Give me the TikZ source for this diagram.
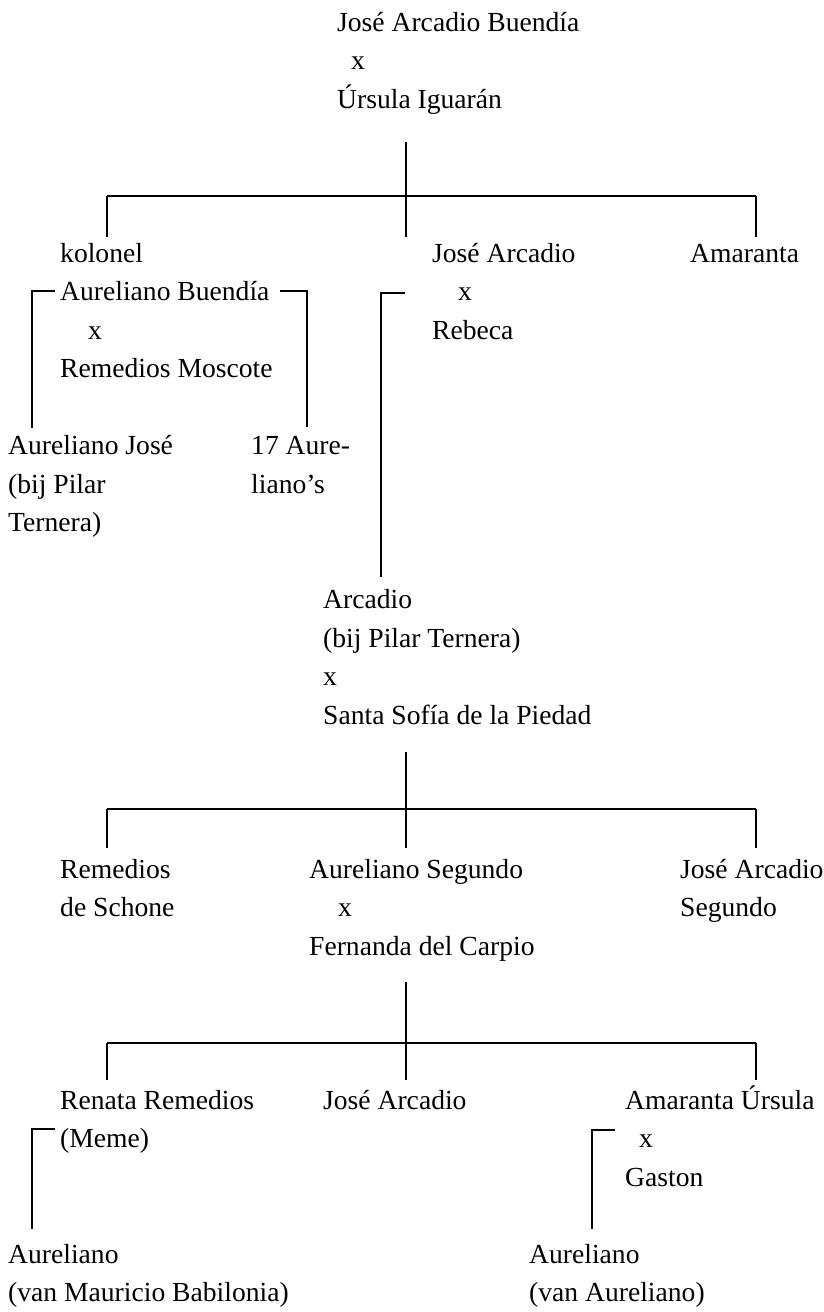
\documentclass[tikz,border=0pt]{standalone}
\usepackage{fontspec}
\setmainfont{Liberation Serif}
\begin{document}
\begin{tikzpicture}[x=1pt, y=-1pt,
  person/.style={anchor=base west, align=left, inner sep=0pt, font=\fontsize{27.6}{38.5}\selectfont},
  link/.style={-, line width=1.1pt, draw=black}]
\useasboundingbox (0,0) rectangle (823,1312);
% generation 1 (nodes placed at the baseline of their last line)
\node[person] (JAB) at (337, 108) {José Arcadio Buendía\\\hspace*{14pt}x\\Úrsula Iguarán};
% generation 2
\node[person] (Kol) at (60, 377.5) {kolonel\\Aureliano Buendía\\\hspace*{28pt}x\\Remedios Moscote};
\node[person] (JA) at (432, 339) {José Arcadio\\\hspace*{26pt}x\\Rebeca};
\node[person] (Ama) at (690, 262) {Amaranta};
\node[person] (AJ) at (8, 531.5) {Aureliano José\\(bij Pilar\\Ternera)};
\node[person] (A17) at (251, 493) {17 Aure-\\liano’s};
% generation 3
\node[person] (Arc) at (323, 724) {Arcadio\\(bij Pilar Ternera)\\x\\Santa Sofía de la Piedad};
% generation 4
\node[person] (Rem) at (60, 916.5) {Remedios\\de Schone};
\node[person] (AS) at (309, 955) {Aureliano Segundo\\\hspace*{29pt}x\\Fernanda del Carpio};
\node[person] (JAS) at (680, 916.5) {José Arcadio\\Segundo};
% generation 5
\node[person] (Ren) at (60, 1147.5) {Renata Remedios\\(Meme)};
\node[person] (JA2) at (323, 1109) {José Arcadio};
\node[person] (AU) at (625, 1186) {Amaranta Úrsula\\\hspace*{14pt}x\\Gaston};
% generation 6
\node[person] (AMB) at (8, 1301.5) {Aureliano\\(van Mauricio Babilonia)};
\node[person] (AA) at (529, 1301.5) {Aureliano\\(van Aureliano)};
% tree points
\coordinate (T1u) at (406, 142); \coordinate (T1m) at (406, 237);
\coordinate (T1l) at (107, 196); \coordinate (T1r) at (756, 196);
\coordinate (D1l) at (107, 237); \coordinate (D1r) at (756, 237);
\coordinate (T2u) at (406, 752); \coordinate (T2m) at (406, 848);
\coordinate (T2l) at (107, 809); \coordinate (T2r) at (756, 809);
\coordinate (D2l) at (107, 848); \coordinate (D2r) at (756, 848);
\coordinate (T3u) at (406, 982); \coordinate (T3m) at (406, 1080);
\coordinate (T3l) at (107, 1043); \coordinate (T3r) at (756, 1043);
\coordinate (D3l) at (107, 1080); \coordinate (D3r) at (756, 1080);
% bracket points
\coordinate (Ba1) at (55, 291); \coordinate (Ba2) at (32, 291); \coordinate (Ba3) at (32, 428);
\coordinate (Bb1) at (280, 291); \coordinate (Bb2) at (307, 291); \coordinate (Bb3) at (307, 427);
\coordinate (Bc1) at (405, 293); \coordinate (Bc2) at (381, 293); \coordinate (Bc3) at (381, 577);
\coordinate (Bd1) at (55, 1129); \coordinate (Bd2) at (32, 1129); \coordinate (Bd3) at (32, 1229);
\coordinate (Be1) at (615, 1130); \coordinate (Be2) at (592, 1130); \coordinate (Be3) at (592, 1229);
\path [link] (T1u) edge (T1m);
\path [link] (T1l) edge (T1r);
\path [link] (T1l) edge (D1l);
\path [link] (T1r) edge (D1r);
\path [link] (T2u) edge (T2m);
\path [link] (T2l) edge (T2r);
\path [link] (T2l) edge (D2l);
\path [link] (T2r) edge (D2r);
\path [link] (T3u) edge (T3m);
\path [link] (T3l) edge (T3r);
\path [link] (T3l) edge (D3l);
\path [link] (T3r) edge (D3r);
\draw [link] (Ba1) -- (Ba2) -- (Ba3);
\draw [link] (Bb1) -- (Bb2) -- (Bb3);
\draw [link] (Bc1) -- (Bc2) -- (Bc3);
\draw [link] (Bd1) -- (Bd2) -- (Bd3);
\draw [link] (Be1) -- (Be2) -- (Be3);
\end{tikzpicture}
\end{document}
